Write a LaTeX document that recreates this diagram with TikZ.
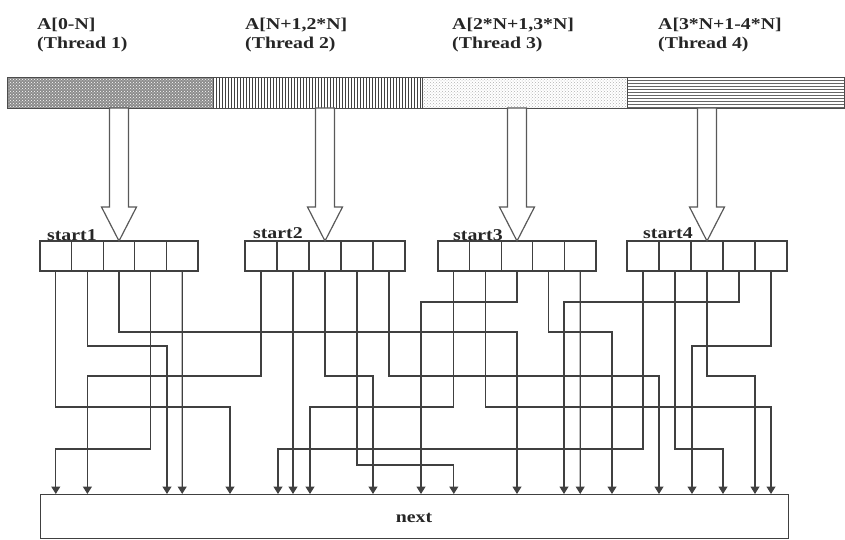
\documentclass[tikz,border=0pt]{standalone}
\usepackage{fontspec}
\setmainfont[FakeStretch=1.2]{Liberation Serif}
\usetikzlibrary{patterns,arrows.meta}
\begin{document}
\begin{tikzpicture}[x=1pt,y=-1pt,
  lbl/.style={font=\fontsize{16.5}{20}\selectfont\bfseries, text=black!85, inner sep=0, anchor=base west},
  cell/.style={draw=black!75, line width=1.2pt, minimum height=30pt, inner sep=0, outer sep=0},
  wire/.style={draw=black!75, line width=1.2pt, -{Triangle[width=9pt,length=7.5pt]}},
  harrow/.style={draw=black!65, line width=1.2pt, fill=white},
  barsec/.style={draw=black!70, line width=1pt, minimum height=31pt, inner sep=0, anchor=north west},
  bigbox/.style={draw=black!75, line width=1.2pt, inner sep=0, anchor=north west}
]
\useasboundingbox (0,0) rectangle (845,540);

% labels
\node[lbl] (t1a) at (37,29.5) {A[0-N]};
\node[lbl] (t1b) at (37,48.5) {(Thread 1)};
\node[lbl] (t2a) at (245,29.5) {A[N+1,2*N]};
\node[lbl] (t2b) at (245,48.5) {(Thread 2)};
\node[lbl] (t3a) at (452,29.5) {A[2*N+1,3*N]};
\node[lbl] (t3b) at (452,48.5) {(Thread 3)};
\node[lbl] (t4a) at (658,29.5) {A[3*N+1-4*N]};
\node[lbl] (t4b) at (658,48.5) {(Thread 4)};

% array bar
\node[barsec, minimum width=206pt, preaction={fill=black!45}, pattern=crosshatch dots, pattern color=white] (sec1) at (7,77) {};
\node[barsec, minimum width=209pt, pattern=vertical lines, pattern color=black!75] (sec2) at (213,77) {};
\node[barsec, minimum width=205pt, pattern=crosshatch dots, pattern color=black!30] (sec3) at (422,77) {};
\node[barsec, minimum width=217pt, pattern=horizontal lines, pattern color=black!60] (sec4) at (627,77) {};

% cells
\foreach \g/\l/\w in {1/40/31.6, 2/245/32, 3/438/31.6, 4/627/32} {
  \foreach \i in {1,...,5} {
    \node[cell, minimum width=\w pt] (g\g c\i) at ({\l+(\i-0.5)*\w}, 256) {};
  }
}
\node[lbl] (s1) at (47,240) {start1};
\node[lbl] (s2) at (253,238) {start2};
\node[lbl] (s3) at (453,240) {start3};
\node[lbl] (s4) at (643,238) {start4};

% hollow arrows from the bar to the start cells
\foreach \c in {g1c3,g2c3,g3c3,g4c3} {
  \draw[harrow] (\c.north) -- ++(-17.5,-34) -- ++(8,0) -- ++(0,-99) -- ++(19,0)
     -- ++(0,99) -- ++(8,0) -- cycle;
}

% next box
\node[bigbox, minimum width=748pt, minimum height=44pt] (next) at (40,494) {};
\node[font=\fontsize{16.5}{20}\selectfont\bfseries, text=black!85, inner sep=0] (nextlbl) at (414,518) {next};

% levels
\foreach \v in {302,332,346,376,407,449,465} { \coordinate (L\v) at (0,\v); }

% arrival points on the next box
\foreach \n/\x in {1/55.8, 2/87.4, 3/167, 4/182.2, 5/230, 6/278, 7/293, 8/310, 9/373, 10/421,
                   11/453.8, 12/517, 13/564, 14/580.2, 15/612, 16/659, 17/692, 18/723, 19/755, 20/771} {
  \coordinate (in\n) at (\x,494);
}

% straight wires
\draw[wire] (g1c5.south) -- (in4);
\draw[wire] (g2c2.south) -- (in7);
\draw[wire] (g3c5.south) -- (in14);

% bent wires
\foreach \s/\lv/\d in {g1c1/407/5, g1c2/346/3, g1c3/332/12, g1c4/449/1,
                       g2c1/376/2, g2c3/376/9, g2c4/465/11, g2c5/376/16,
                       g3c1/407/8, g3c2/407/20, g3c3/302/10, g3c4/332/15,
                       g4c1/449/6, g4c2/449/18, g4c3/376/19, g4c4/302/13, g4c5/346/17} {
  \draw[wire] (\s.south) -- (\s.south |- L\lv) -| (in\d);
}
\end{tikzpicture}
\end{document}
